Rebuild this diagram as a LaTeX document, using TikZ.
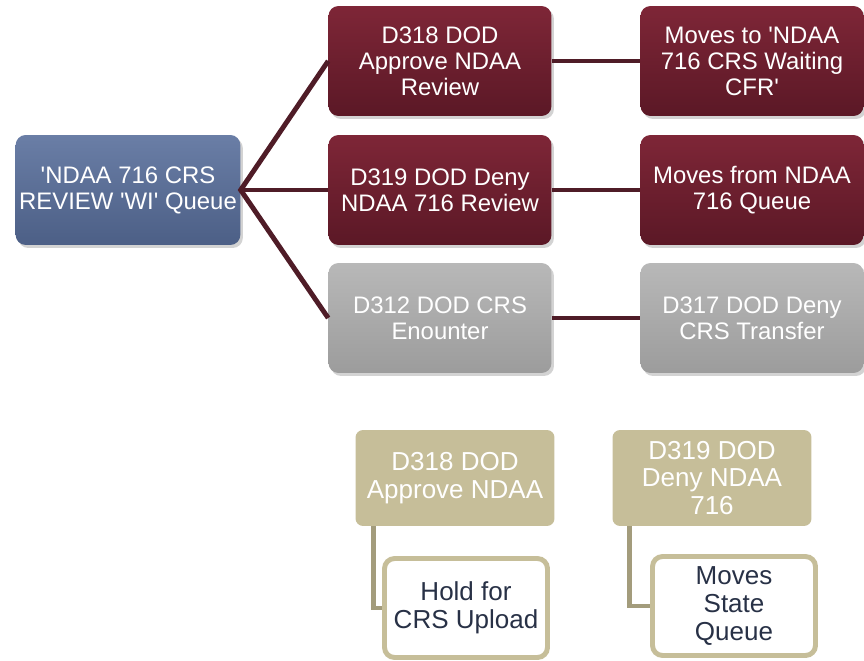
\documentclass[tikz,border=0pt]{standalone}
\usepackage{fontspec}
\setmainfont{Liberation Sans}
\usetikzlibrary{shadows}

\definecolor{blueTop}{HTML}{6A7EA6}
\definecolor{blueBot}{HTML}{4C5F86}
\definecolor{redTop}{HTML}{7E2637}
\definecolor{redBot}{HTML}{5B1826}
\definecolor{greyTop}{HTML}{B8B8B8}
\definecolor{greyBot}{HTML}{9C9C9C}
\definecolor{tanFill}{HTML}{C6BE99}
\definecolor{tanLine}{HTML}{A39C7C}
\definecolor{linkRed}{HTML}{4F1C27}
\definecolor{darkText}{HTML}{283146}

\newcommand{\q}{\textquotesingle}

\tikzset{
  box/.style={rounded corners=0.2cm, minimum width=4.46cm, minimum height=2.2cm,
    align=center, text=white, inner sep=2pt,
    font=\fontsize{13.6}{14.8}\selectfont,
    drop shadow={opacity=0.35, shadow xshift=0.05cm, shadow yshift=-0.06cm}},
  bluebox/.style={box, top color=blueTop, bottom color=blueBot},
  redbox/.style={box, top color=redTop, bottom color=redBot},
  greybox/.style={box, top color=greyTop, bottom color=greyBot},
  tanbox/.style={rounded corners=0.15cm, minimum width=3.98cm, minimum height=1.92cm,
    align=center, text=white, fill=tanFill, font=\fontsize{14.8}{15.9}\selectfont},
  holdbox/.style={rounded corners=0.2cm, minimum width=3.26cm, minimum height=1.98cm,
    align=center, text=darkText, fill=white, draw=tanFill, line width=2.8pt,
    font=\fontsize{14.8}{15.9}\selectfont},
  link/.style={linkRed, line width=2.8pt},
  tanlink/.style={tanLine, line width=2.8pt}
}

\begin{document}
\begin{tikzpicture}[x=0.02cm, y=-0.02cm]
  \useasboundingbox (0,0) rectangle (864,661);

  % main queue and the three actions
  \node[bluebox] (queue) at (128,190) {\q NDAA 716 CRS\\REVIEW \q WI\q{} Queue};
  \node[redbox] (approve) at (440,61) {D318 DOD\\Approve NDAA\\Review};
  \node[redbox] (deny) at (440,190) {D319 DOD Deny\\NDAA 716 Review};
  \node[greybox] (encounter) at (440,318) {D312 DOD CRS\\Enounter};

  % results
  \node[redbox] (waiting) at (752,61) {Moves to \q NDAA\\716 CRS Waiting\\CFR\q};
  \node[redbox] (movesfrom) at (752,190) {Moves from NDAA\\716 Queue};
  \node[greybox] (transfer) at (752,318) {D317 DOD Deny\\CRS Transfer};

  \draw[link] (approve.west) -- (queue.east) -- (encounter.west);
  \draw[link] (queue.east) -- (deny.west);
  \draw[link] (approve.east) -- (waiting.west);
  \draw[link] (deny.east) -- (movesfrom.west);
  \draw[link] (encounter.east) -- (transfer.west);

  % legend part at the bottom
  \node[tanbox] (tanA) at (455,478) {D318 DOD\\Approve NDAA};
  \node[tanbox] (tanB) at (712,478) {D319 DOD\\Deny NDAA\\716};
  \draw[tanlink] ([xshift=0.36cm]tanA.south west) |- (386,608) coordinate (holdin);
  \draw[tanlink] ([xshift=0.34cm]tanB.south west) |- (654,606) coordinate (statein);
  \node[holdbox] (hold) at (466,608) {Hold for\\CRS Upload};
  \node[holdbox] (state) at (734,606) {Moves\\State\\Queue};
\end{tikzpicture}
\end{document}
